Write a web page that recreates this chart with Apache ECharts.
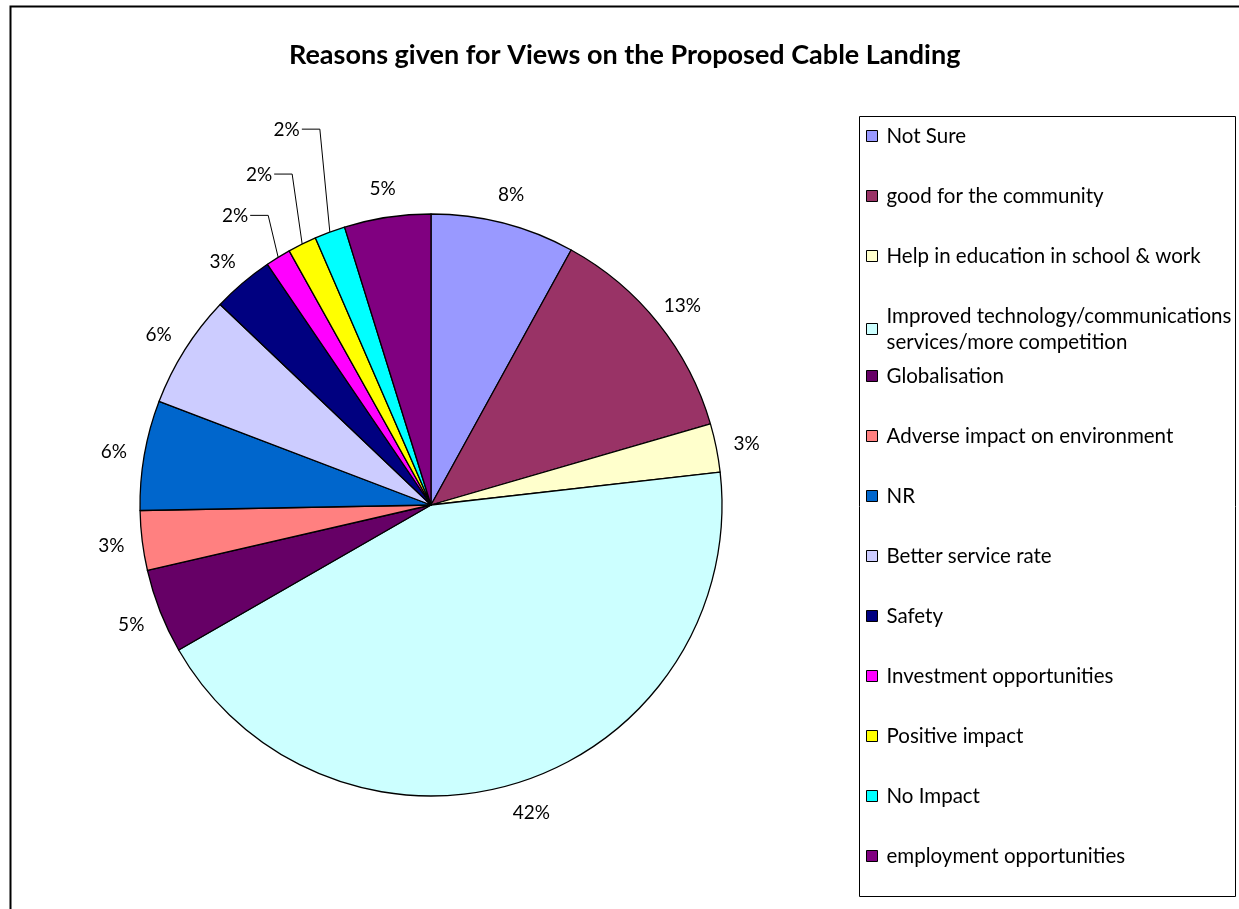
<!DOCTYPE html>
<html>
<head>
<meta charset="utf-8">
<title>Reasons given for Views on the Proposed Cable Landing</title>
<script src="https://cdn.jsdelivr.net/npm/echarts@6/dist/echarts.min.js"></script>
<style>
  html, body { margin: 0; padding: 0; background: #fff; }
  #main { width: 1239px; height: 909px; }
</style>
</head>
<body>
<div id="main"></div>
<script>
// categories, clockwise from 12 o'clock
const categories = [
  'Not Sure',
  'good for the community',
  'Help in education in school & work',
  'Improved technology/communications services/more competition',
  'Globalisation',
  'Adverse impact on environment',
  'NR',
  'Better service rate',
  'Safety',
  'Investment opportunities',
  'Positive impact',
  'No Impact',
  'employment opportunities'
]
// slice sizes (share of the circle, %)
const shares = [8.0, 12.5, 2.7, 43.5, 4.7, 3.3, 6.1, 6.3, 3.4, 1.4, 1.6, 1.7, 4.8]
// labels as printed on the chart
const pctLabels = ['8%', '13%', '3%', '42%', '5%', '3%', '6%', '6%', '3%', '2%', '2%', '2%', '5%']

const colors = ['#9999FF', '#993366', '#FFFFCC', '#CCFFFF', '#660066', '#FF8080', '#0066CC',
  '#CCCCFF', '#000080', '#FF00FF', '#FFFF00', '#00FFFF', '#800080']

const FONT = 'Lato'
const cx = 431
const cy = 505
const R = 291
const labelR = 322
// small slices get an elbow leader line: how far the elbow sits above the slice edge
const leaderRise = { 9: 42, 10: 70, 11: 103 }

const legendBase = {
  orient: 'vertical',
  left: 866,
  padding: 0,
  itemGap: 34,
  itemWidth: 11,
  itemHeight: 11,
  icon: 'rect',
  selectedMode: false,
  itemStyle: { borderColor: '#000', borderWidth: 1 },
  textStyle: { fontFamily: FONT, fontSize: 20.5, color: '#000', lineHeight: 26, padding: [0, 0, 0, 4] },
  formatter: function (name) {
    return name.replace('communications ', 'communications\n')
  }
}

const chart = echarts.init(document.getElementById('main'))
chart.setOption({
  backgroundColor: '#fff',
  color: colors,
  animation: false,
  title: {
    text: 'Reasons given for Views on the Proposed Cable Landing',
    left: 289,
    top: 39,
    padding: 0,
    textStyle: { fontFamily: FONT, fontSize: 27, fontWeight: 'bold', color: '#000', lineHeight: 32 }
  },
  legend: [
    Object.assign({}, legendBase, { top: 123, data: categories.slice(0, 4) }),
    Object.assign({}, legendBase, { top: 363, data: categories.slice(4) })
  ],
  graphic: [
    {
      type: 'rect',
      left: 8,
      top: 4,
      shape: { width: 1400, height: 1000 },
      style: { fill: 'none', stroke: '#000', lineWidth: 2 },
      silent: true
    },
    {
      type: 'rect',
      left: 857,
      top: 114,
      shape: { width: 376, height: 780 },
      style: { fill: 'none', stroke: '#000', lineWidth: 1 },
      silent: true
    }
  ],
  series: [
    {
      type: 'pie',
      center: [cx, cy],
      radius: R,
      startAngle: 90,
      clockwise: true,
      avoidLabelOverlap: false,
      emphasis: { disabled: true },
      itemStyle: { borderColor: '#000', borderWidth: 1.3 },
      label: {
        position: 'outside',
        fontFamily: FONT,
        fontSize: 19,
        color: '#000',
        formatter: function (p) { return pctLabels[p.dataIndex] }
      },
      labelLine: {
        show: true,
        length: 10,
        length2: 10,
        lineStyle: { color: '#000', width: 1 }
      },
      labelLayout: function (p) {
        const pts = p.labelLinePoints
        if (!pts) return {}
        const ex = pts[0][0]
        const ey = pts[0][1]
        const rise = leaderRise[p.dataIndex]
        if (rise) {
          const kx = ex - 10
          const ky = ey - rise
          return {
            x: kx - 20 - p.labelRect.width / 2,
            y: ky + 1,
            align: 'center',
            verticalAlign: 'middle',
            labelLinePoints: [[ex, ey], [kx, ky], [kx - 18, ky]]
          }
        }
        const ux = (ex - cx) / R
        const uy = (ey - cy) / R
        return {
          x: cx + ux * labelR,
          y: cy + uy * labelR + 2,
          align: 'center',
          verticalAlign: 'middle',
          labelLinePoints: [[ex, ey], [ex, ey], [ex, ey]]
        }
      },
      data: categories.map(function (name, i) {
        return { name: name, value: shares[i] }
      })
    }
  ]
})
</script>
</body>
</html>
